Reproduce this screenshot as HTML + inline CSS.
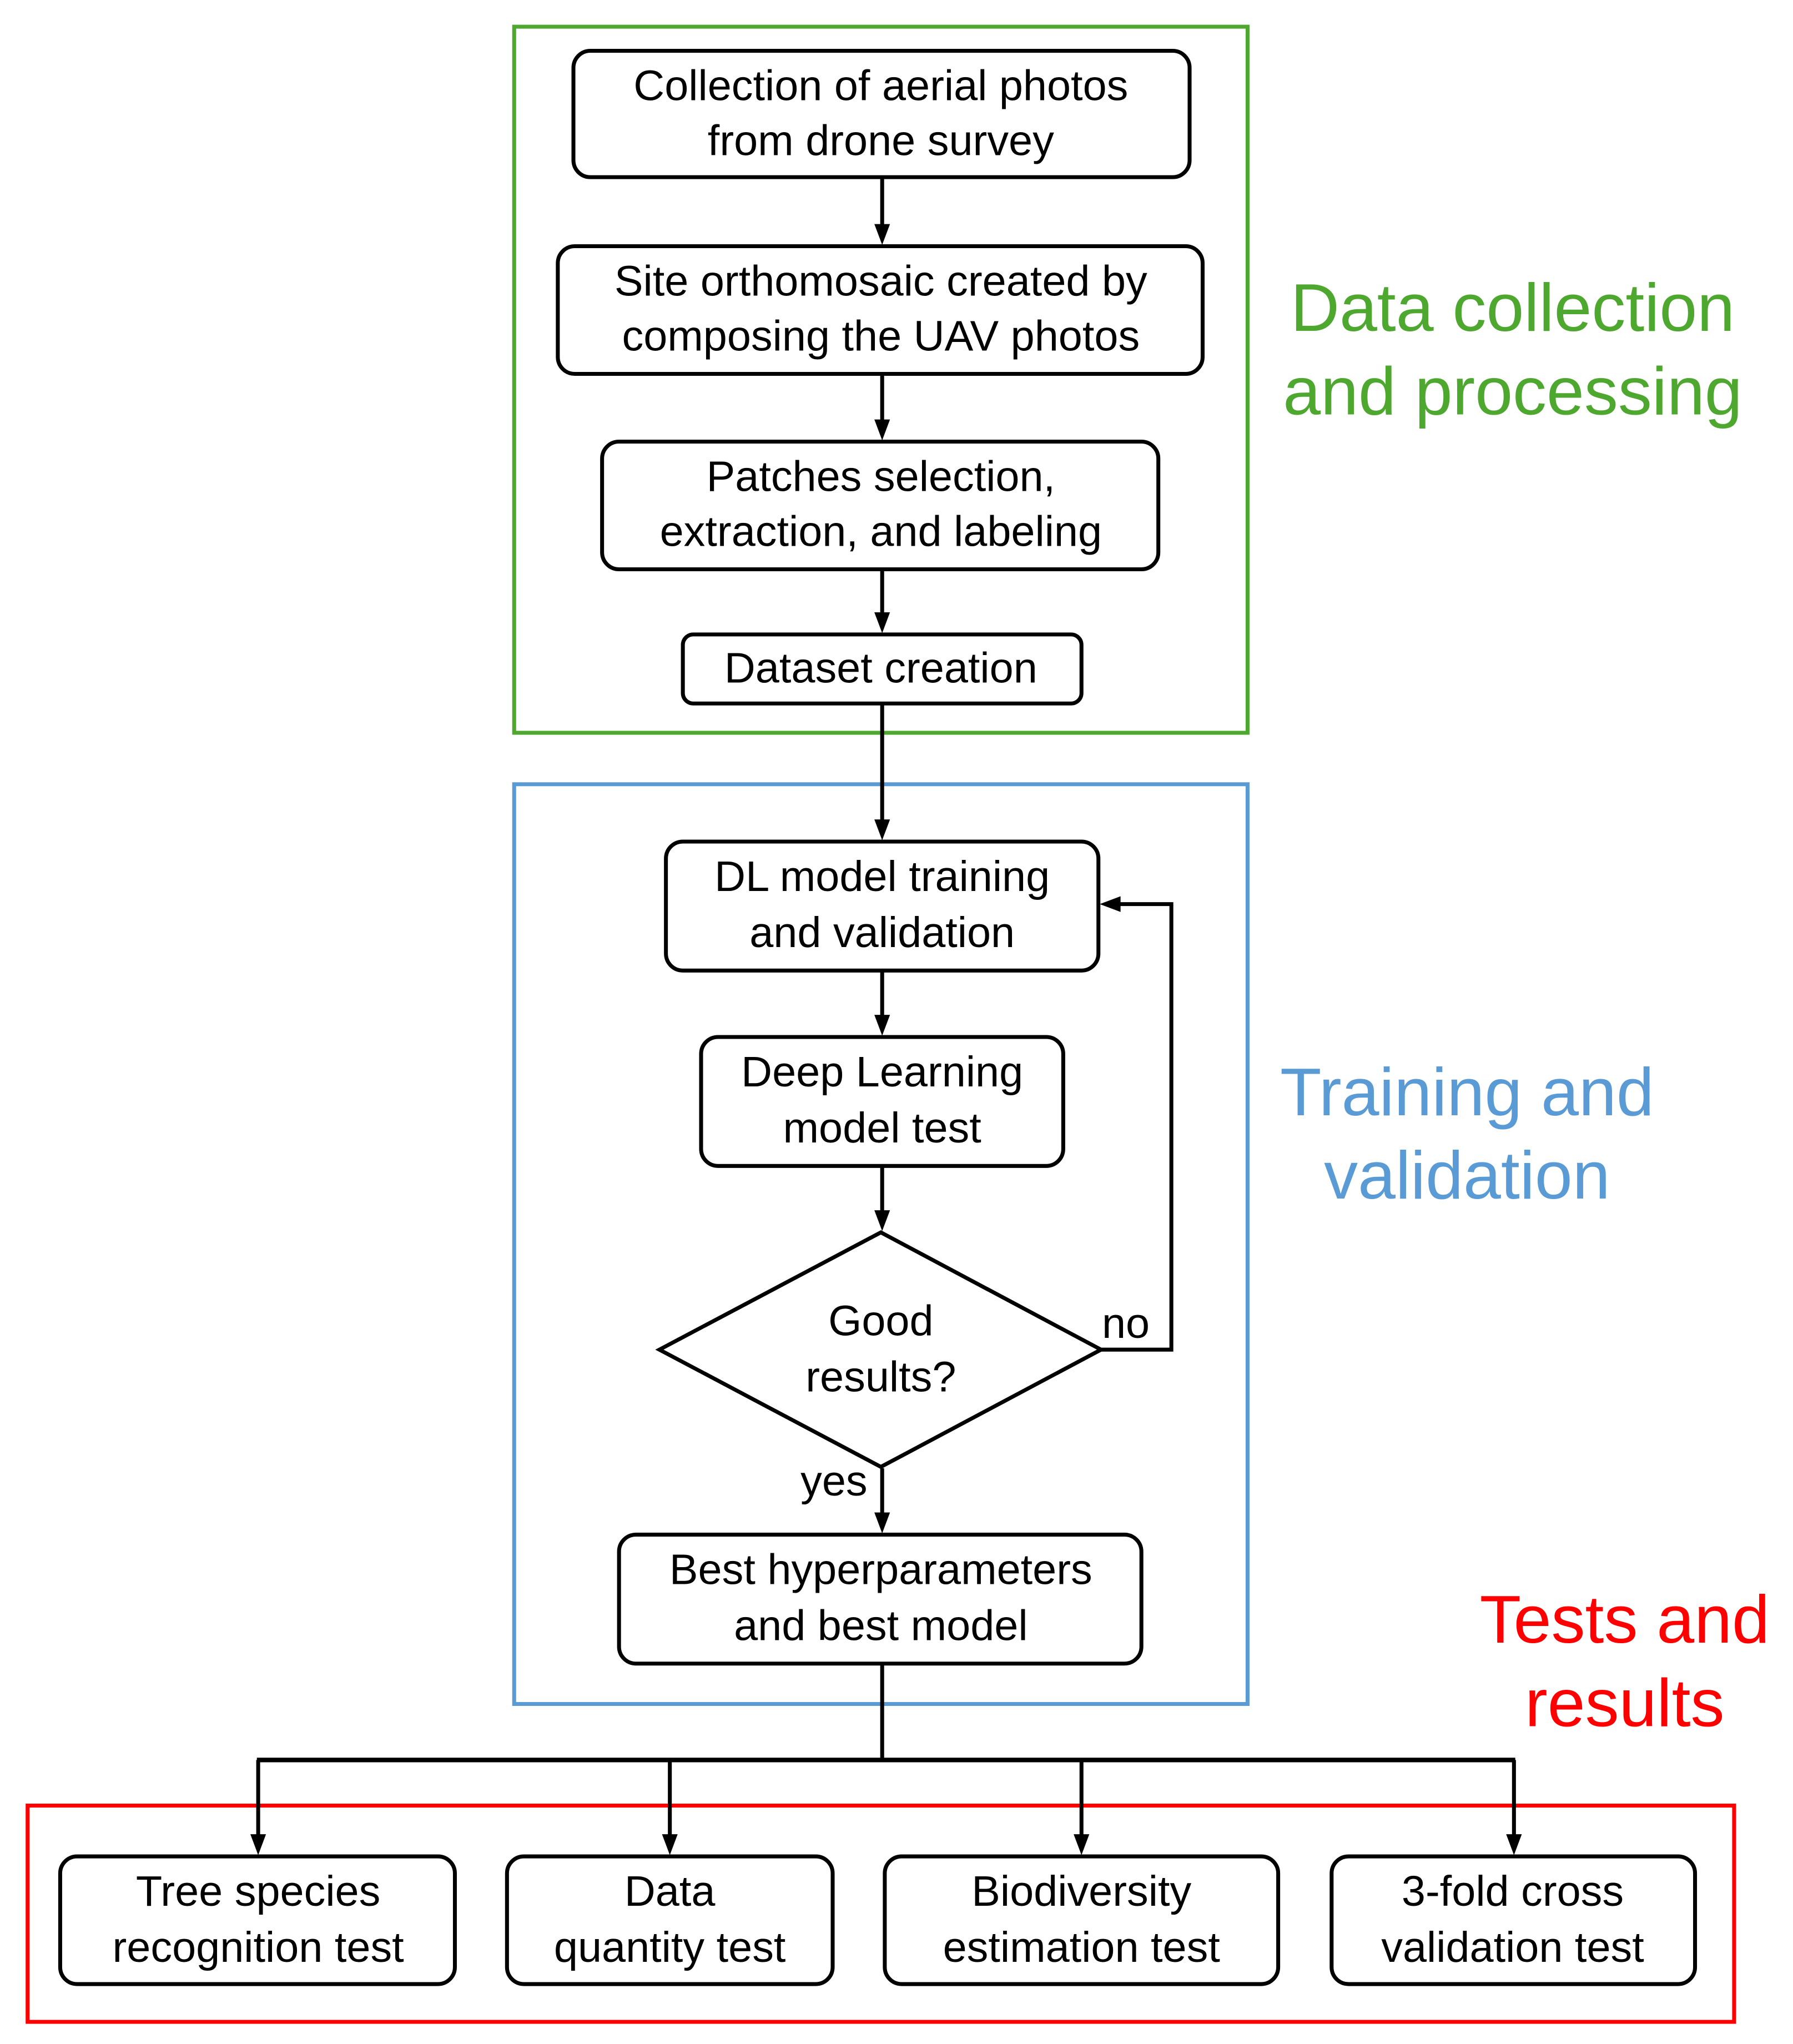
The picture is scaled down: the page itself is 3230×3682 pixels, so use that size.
<!DOCTYPE html>
<html><head><meta charset="utf-8"><style>
html,body{margin:0;padding:0;background:#fff;}
svg{display:block;}
text{font-family:"Liberation Sans",sans-serif;}
</style></head><body>
<svg width="3230" height="3682" viewBox="0 0 1376 1569" xmlns="http://www.w3.org/2000/svg">
<rect width="1380" height="1573" fill="#fff"/>
<!-- group frames -->
<rect x="394.5" y="20.5" width="563" height="542" fill="none" stroke="#4ea72e" stroke-width="3"/>
<rect x="394.5" y="602" width="563" height="706" fill="none" stroke="#5b9bd5" stroke-width="3"/>
<rect x="21" y="1386" width="1310" height="166" fill="none" stroke="#ff0000" stroke-width="3"/>

<g fill="#fff" stroke="#000" stroke-width="3">
<rect x="440" y="39" width="473" height="97" rx="13"/>
<rect x="428" y="189" width="495" height="98" rx="13"/>
<rect x="462" y="339" width="427" height="98" rx="13"/>
<rect x="524" y="487" width="306" height="53" rx="8"/>
<rect x="511" y="646" width="332" height="99" rx="13"/>
<rect x="538" y="796" width="278" height="99" rx="13"/>
<polygon points="676,946 845,1036 676,1126 506,1036"/>
<rect x="475" y="1178" width="401" height="99" rx="13"/>
<rect x="46" y="1425" width="303" height="98" rx="13"/>
<rect x="389" y="1425" width="250" height="98" rx="13"/>
<rect x="679" y="1425" width="302" height="98" rx="13"/>
<rect x="1022" y="1425" width="279" height="98" rx="13"/>
</g>

<g fill="none" stroke="#000" stroke-width="3">
<line x1="677" y1="137" x2="677" y2="176"/>
<line x1="677" y1="288" x2="677" y2="326"/>
<line x1="677" y1="438" x2="677" y2="474"/>
<line x1="677" y1="541" x2="677" y2="633"/>
<line x1="677" y1="746" x2="677" y2="783"/>
<line x1="677" y1="896" x2="677" y2="933"/>
<line x1="677" y1="1127" x2="677" y2="1165"/>
<polyline points="845,1036 899,1036 899,694 856,694"/>
<line x1="677" y1="1278" x2="677" y2="1351"/>
<line x1="197" y1="1351" x2="1163" y2="1351" stroke-width="3.5"/>
<line x1="198" y1="1351" x2="198" y2="1412"/>
<line x1="514" y1="1351" x2="514" y2="1412"/>
<line x1="830" y1="1351" x2="830" y2="1412"/>
<line x1="1162" y1="1351" x2="1162" y2="1412"/>
</g>
<g fill="#000">
<polygon points="671,172 683,172 677,188"/>
<polygon points="671,322 683,322 677,338"/>
<polygon points="671,470 683,470 677,486"/>
<polygon points="671,629 683,629 677,645"/>
<polygon points="671,779 683,779 677,795"/>
<polygon points="671,929 683,929 677,945"/>
<polygon points="671,1161 683,1161 677,1177"/>
<polygon points="860,688 860,700 844,694"/>
<polygon points="192,1408 204,1408 198,1424"/>
<polygon points="508,1408 520,1408 514,1424"/>
<polygon points="824,1408 836,1408 830,1424"/>
<polygon points="1156,1408 1168,1408 1162,1424"/>
</g>

<g font-size="33" text-anchor="middle" fill="#000">
<text x="676" y="77">Collection of aerial photos</text>
<text x="676" y="119">from drone survey</text>
<text x="676" y="227">Site orthomosaic created by</text>
<text x="676" y="269">composing the UAV photos</text>
<text x="676" y="377">Patches selection,</text>
<text x="676" y="419">extraction, and labeling</text>
<text x="676" y="524">Dataset creation</text>
<text x="677" y="684">DL model training</text>
<text x="677" y="727">and validation</text>
<text x="677" y="834">Deep Learning</text>
<text x="677" y="877">model test</text>
<text x="676" y="1025">Good</text>
<text x="676" y="1068">results?</text>
<text x="864" y="1027">no</text>
<text x="640" y="1148">yes</text>
<text x="676" y="1216">Best hyperparameters</text>
<text x="676" y="1259">and best model</text>
<text x="198" y="1463">Tree species</text>
<text x="198" y="1506">recognition test</text>
<text x="514" y="1463">Data</text>
<text x="514" y="1506">quantity test</text>
<text x="830" y="1463">Biodiversity</text>
<text x="830" y="1506">estimation test</text>
<text x="1161" y="1463">3-fold cross</text>
<text x="1161" y="1506">validation test</text>
</g>

<g font-size="52" text-anchor="middle">
<text x="1161" y="254" fill="#4ea72e">Data collection</text>
<text x="1161" y="318" fill="#4ea72e">and processing</text>
<text x="1126" y="856" fill="#5b9bd5">Training and</text>
<text x="1126" y="920" fill="#5b9bd5">validation</text>
<text x="1247" y="1261" fill="#ff0000">Tests and</text>
<text x="1247" y="1325" fill="#ff0000">results</text>
</g>
</svg>
</body></html>
